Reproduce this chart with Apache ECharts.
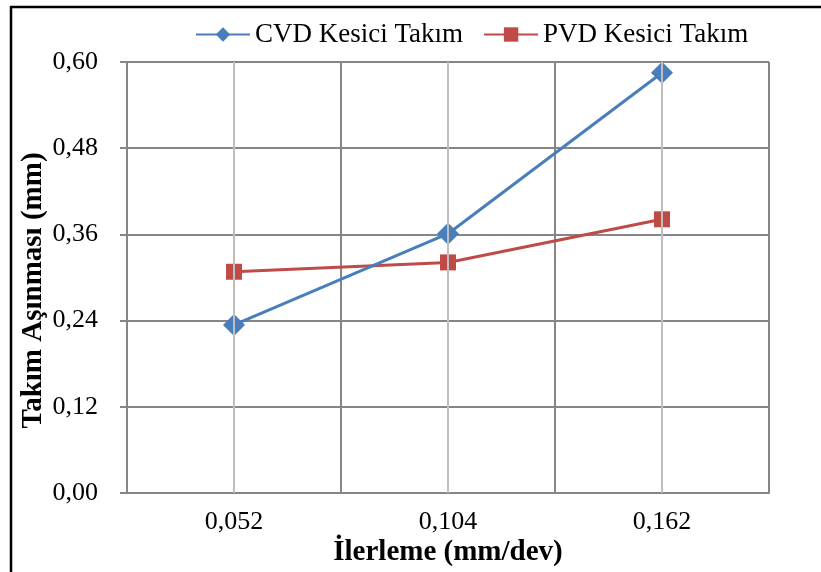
<!DOCTYPE html>
<html>
<head>
<meta charset="utf-8">
<script src="https://cdn.jsdelivr.net/npm/echarts@6/dist/echarts.min.js"></script>
<style>
  html, body { margin: 0; padding: 0; background: #fff; }
  #main { width: 821px; height: 572px; }
</style>
</head>
<body>
<div id="main"></div>
<script>
const categories = ['0,052', '0,104', '0,162']
const cvdValues = [0.234, 0.361, 0.585]
const pvdValues = [0.308, 0.321, 0.381]
const yTicks = { min: 0, max: 0.6, interval: 0.12 }

const font = 'Liberation Serif'
const myChart = echarts.init(document.getElementById('main'))

const option = {
    backgroundColor: '#fff',
    animation: false,
    textStyle: { fontFamily: font },
    legend: {
        top: 16,
        left: 190,
        itemWidth: 54,
        itemHeight: 18,
        itemGap: 20,
        textStyle: { fontFamily: font, fontSize: 27, color: '#000' },
        data: ['CVD Kesici Takım', 'PVD Kesici Takım']
    },
    grid: { left: 127, right: 52, top: 62, bottom: 79 },
    xAxis: {
        type: 'category',
        data: categories,
        boundaryGap: true,
        name: 'İlerleme (mm/dev)',
        nameLocation: 'middle',
        nameGap: 45,
        nameMoveOverlap: false,
        nameTextStyle: { fontFamily: font, fontSize: 29, fontWeight: 'bold', color: '#000' },
        axisLine: { lineStyle: { color: '#868686', width: 2 } },
        axisTick: { show: false },
        axisLabel: { fontFamily: font, fontSize: 26, color: '#000', margin: 16 },
        splitLine: { show: true, lineStyle: { color: '#868686', width: 2 } }
    },
    yAxis: {
        type: 'value',
        min: yTicks.min,
        max: yTicks.max,
        interval: yTicks.interval,
        name: 'Takım Aşınması (mm)',
        nameLocation: 'middle',
        nameGap: 79,
        nameMoveOverlap: false,
        nameTextStyle: {
            fontFamily: font, fontSize: 29, fontWeight: 'bold', color: '#000',
            padding: [0, 26, 0, 0]
        },
        axisLine: { show: true, lineStyle: { color: '#868686', width: 2 } },
        axisTick: { show: true, length: 7, lineStyle: { color: '#868686', width: 2 } },
        axisLabel: {
            fontFamily: font, fontSize: 26, color: '#000', margin: 29,
            formatter: v => v.toFixed(2).replace('.', ',')
        },
        splitLine: { lineStyle: { color: '#868686', width: 2 } }
    },
    series: [
        {
            name: 'CVD Kesici Takım',
            type: 'line',
            data: cvdValues,
            symbol: 'diamond',
            symbolSize: 22,
            z: 4,
            itemStyle: { color: '#4A7EBB' },
            lineStyle: { color: '#4A7EBB', width: 3 },
            markLine: {
                silent: true,
                symbol: 'none',
                label: { show: false },
                lineStyle: { color: '#BFBFBF', width: 2, type: 'solid' },
                data: categories.map(c => ({ xAxis: c }))
            }
        },
        {
            name: 'PVD Kesici Takım',
            type: 'line',
            data: pvdValues,
            symbol: 'rect',
            symbolSize: 16,
            z: 3,
            itemStyle: { color: '#BE4B48' },
            lineStyle: { color: '#BE4B48', width: 3 }
        }
    ],
    graphic: [
        { type: 'line', shape: { x1: 10, y1: 7, x2: 821, y2: 7 }, style: { stroke: '#000', lineWidth: 2.5 } },
        { type: 'line', shape: { x1: 11, y1: 6, x2: 11, y2: 572 }, style: { stroke: '#000', lineWidth: 2.5 } }
    ]
}

myChart.setOption(option)
</script>
</body>
</html>
